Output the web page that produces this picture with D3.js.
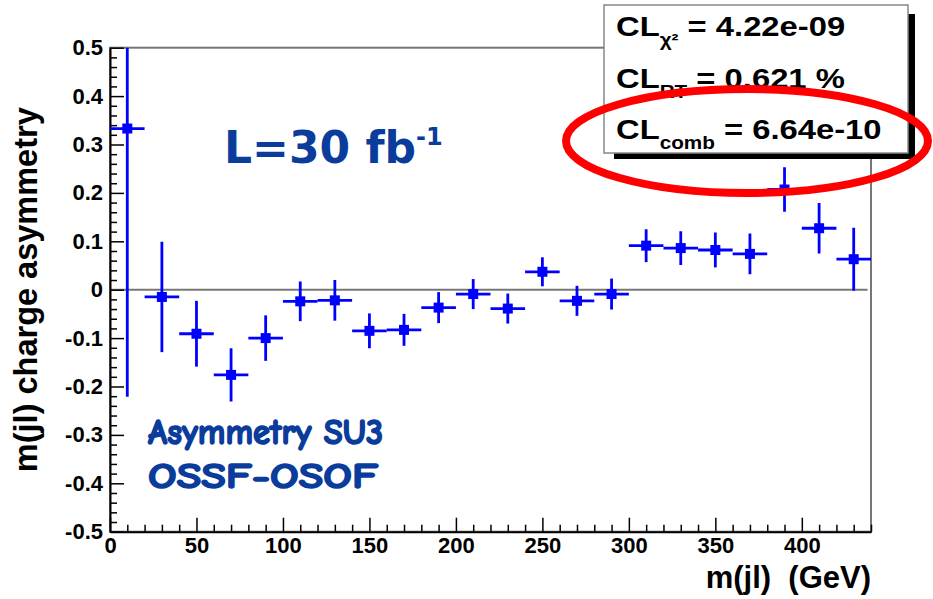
<!DOCTYPE html>
<html>
<head>
<meta charset="utf-8">
<script src="https://cdn.jsdelivr.net/npm/d3@7"></script>
<style>
  body { margin: 0; background: #fff; }
  svg { display: block; }
</style>
</head>
<body>
<div class="chart"></div>
<script>
// bin centres in m(jl), GeV (20 GeV bins)
let binCenters = [10, 30, 50, 70, 90, 110, 130, 150, 170, 190, 210, 230, 250, 270, 290, 310, 330, 350, 370, 390, 410, 430];
// charge asymmetry per bin
let asymmetry = [0.333, -0.015, -0.091, -0.176, -0.100, -0.024, -0.022, -0.085, -0.083, -0.037, -0.009, -0.039, 0.037, -0.023, -0.009, 0.091, 0.086, 0.082, 0.074, 0.207, 0.127, 0.063];
// statistical error per bin
let asymErr = [0.554, 0.114, 0.068, 0.055, 0.047, 0.041, 0.042, 0.036, 0.033, 0.032, 0.031, 0.031, 0.030, 0.031, 0.032, 0.034, 0.035, 0.036, 0.042, 0.046, 0.052, 0.065];
let binHalfWidth = 10;

let xTicks = [0, 50, 100, 150, 200, 250, 300, 350, 400];
let yTicks = [-0.5, -0.4, -0.3, -0.2, -0.1, 0, 0.1, 0.2, 0.3, 0.4, 0.5];

let clLabels = ['CL', 'CL', 'CL'];
let clSubs = ['\u03c7\u00b2', 'RT', 'comb'];
let clValues = ['= 4.22e-09', '= 0.621 %', '= 6.64e-10'];

let width = 933, height = 599;
let plotLeft = 110, plotRight = 871, plotTop = 47.7, plotBottom = 531.7;
let helv = "'Liberation Sans', Arial, Helvetica, sans-serif";
let blueText = '#0a3c9c';

let svg = d3.select('.chart')
    .append('svg')
    .attr('width', width)
    .attr('height', height);

let x_scale = d3.scaleLinear()
    .domain([0, 440])
    .range([plotLeft, plotRight]);
let y_scale = d3.scaleLinear()
    .domain([-0.5, 0.5])
    .range([plotBottom, plotTop]);

// frame (top / right in grey like ROOT)
svg.append('rect')
    .attr('x', plotLeft)
    .attr('y', plotTop)
    .attr('width', plotRight - plotLeft)
    .attr('height', plotBottom - plotTop)
    .attr('fill', 'none')
    .attr('stroke', '#777')
    .attr('stroke-width', 2);

// zero line
svg.append('line')
    .attr('x1', x_scale(0))
    .attr('x2', x_scale(438))
    .attr('y1', y_scale(0))
    .attr('y2', y_scale(0))
    .attr('stroke', '#777')
    .attr('stroke-width', 2);

// minor ticks
let xMinor = d3.range(0, 441, 10).filter(v => v % 50 !== 0);
let yMinor = d3.range(-25, 26).map(v => v * 0.02).filter(v => Math.abs(Math.round(v * 50)) % 5 !== 0);

svg.append('g')
    .attr('transform', `translate(0, ${plotBottom})`)
    .call(d3.axisBottom(x_scale).tickValues(xMinor).tickSize(-7).tickFormat(''))
    .call(g => g.select('.domain').remove())
    .selectAll('line').attr('stroke-width', 1.5);
svg.append('g')
    .attr('transform', `translate(${plotLeft}, 0)`)
    .call(d3.axisLeft(y_scale).tickValues(yMinor).tickSize(-7).tickFormat(''))
    .call(g => g.select('.domain').remove())
    .selectAll('line').attr('stroke-width', 1.5);

// major axes
let x_Axis = d3.axisBottom(x_scale)
    .tickValues(xTicks)
    .tickSize(-14)
    .tickSizeOuter(0)
    .tickPadding(6)
    .tickFormat(d => d);
let y_Axis = d3.axisLeft(y_scale)
    .tickValues(yTicks)
    .tickSize(-14)
    .tickSizeOuter(0)
    .tickPadding(7)
    .tickFormat(d => d === 0 ? '0' : d.toFixed(1));

let gx = svg.append('g')
    .attr('transform', `translate(0, ${plotBottom})`)
    .call(x_Axis);
let gy = svg.append('g')
    .attr('transform', `translate(${plotLeft}, 0)`)
    .call(y_Axis);
[gx, gy].forEach(g => {
    g.select('.domain').attr('stroke', '#000').attr('stroke-width', 2);
    g.selectAll('line').attr('stroke-width', 1.5);
    g.selectAll('text')
        .attr('fill', '#000')
        .style('font-family', helv)
        .style('font-weight', 'bold')
        .style('font-size', '22px');
});

// axis titles
svg.append('text')
    .attr('transform', `translate(37, ${(plotTop + plotBottom) / 2}) rotate(-90)`)
    .attr('text-anchor', 'middle')
    .style('font-family', helv)
    .style('font-weight', 'bold')
    .style('font-size', '32.5px')
    .text('m(jl) charge asymmetry');
svg.append('text')
    .attr('x', plotRight)
    .attr('y', 588)
    .attr('text-anchor', 'end')
    .attr('xml:space', 'preserve')
    .style('font-family', helv)
    .style('font-weight', 'bold')
    .style('font-size', '31px')
    .text('m(jl)  (GeV)');

// data points with error bars
svg.append('clipPath')
    .attr('id', 'plot-clip')
    .append('rect')
    .attr('x', plotLeft)
    .attr('y', plotTop)
    .attr('width', plotRight - plotLeft)
    .attr('height', plotBottom - plotTop);

let points = binCenters.map((c, i) => ({ x: c, y: asymmetry[i], e: asymErr[i] }));
let pg = svg.append('g')
    .attr('clip-path', 'url(#plot-clip)')
    .selectAll('g')
    .data(points)
    .join('g');
pg.append('line')
    .attr('x1', d => x_scale(d.x - binHalfWidth))
    .attr('x2', d => x_scale(d.x + binHalfWidth))
    .attr('y1', d => y_scale(d.y))
    .attr('y2', d => y_scale(d.y))
    .attr('stroke', '#0000ff')
    .attr('stroke-width', 2.8);
pg.append('line')
    .attr('x1', d => x_scale(d.x))
    .attr('x2', d => x_scale(d.x))
    .attr('y1', d => y_scale(d.y - d.e))
    .attr('y2', d => y_scale(d.y + d.e))
    .attr('stroke', '#0000ff')
    .attr('stroke-width', 2.8);
pg.append('rect')
    .attr('x', d => x_scale(d.x) - 5)
    .attr('y', d => y_scale(d.y) - 5)
    .attr('width', 10)
    .attr('height', 10)
    .attr('fill', '#0000ff');

// luminosity label
let lumi = svg.append('text')
    .attr('x', 224)
    .attr('y', 163)
    .attr('fill', blueText)
    .style('font-family', "'DejaVu Sans', Verdana, sans-serif")
    .style('font-weight', 'bold')
    .style('font-size', '44px');
lumi.append('tspan').text('L=30 fb');
lumi.append('tspan')
    .attr('dy', -18)
    .style('font-size', '24px')
    .text('-1');

// sample label
let comic = "'Comic Sans MS', 'Comic Neue', 'DejaVu Sans', sans-serif";
svg.append('text')
    .attr('x', 148)
    .attr('y', 444)
    .attr('fill', blueText)
    .attr('stroke', blueText)
    .attr('stroke-width', 1.6)
    .attr('textLength', 235)
    .attr('lengthAdjust', 'spacingAndGlyphs')
    .style('font-family', comic)
    .style('font-weight', 'bold')
    .style('font-size', '36px')
    .text('Asymmetry SU3');
svg.append('text')
    .attr('x', 148)
    .attr('y', 488)
    .attr('fill', blueText)
    .attr('stroke', blueText)
    .attr('stroke-width', 1.6)
    .attr('textLength', 230)
    .attr('lengthAdjust', 'spacingAndGlyphs')
    .style('font-family', comic)
    .style('font-weight', 'bold')
    .style('font-size', '36px')
    .text('OSSF-OSOF');

// CL box
svg.append('rect')
    .attr('x', 614)
    .attr('y', 14)
    .attr('width', 301)
    .attr('height', 145)
    .attr('fill', '#000');
svg.append('rect')
    .attr('x', 604)
    .attr('y', 5)
    .attr('width', 304)
    .attr('height', 148)
    .attr('fill', '#fff')
    .attr('stroke', '#888')
    .attr('stroke-width', 1.5);

let baselines = [36, 88, 139];
clLabels.forEach((lab, i) => {
    let t = svg.append('text')
        .attr('transform', `translate(616, ${baselines[i]}) scale(1.15, 1)`)
        .attr('xml:space', 'preserve')
        .style('font-family', helv)
        .style('font-weight', 'bold')
        .style('font-size', '28.5px');
    t.append('tspan').text(lab);
    t.append('tspan')
        .attr('dy', 10)
        .style('font-size', '18px')
        .text(clSubs[i]);
    t.append('tspan')
        .attr('dy', -10)
        .text(' ' + clValues[i]);
});

// red highlight ellipse
svg.append('ellipse')
    .attr('cx', 747)
    .attr('cy', 141)
    .attr('rx', 181)
    .attr('ry', 52)
    .attr('fill', 'none')
    .attr('stroke', '#ff0000')
    .attr('stroke-width', 8);
</script>
</body>
</html>
